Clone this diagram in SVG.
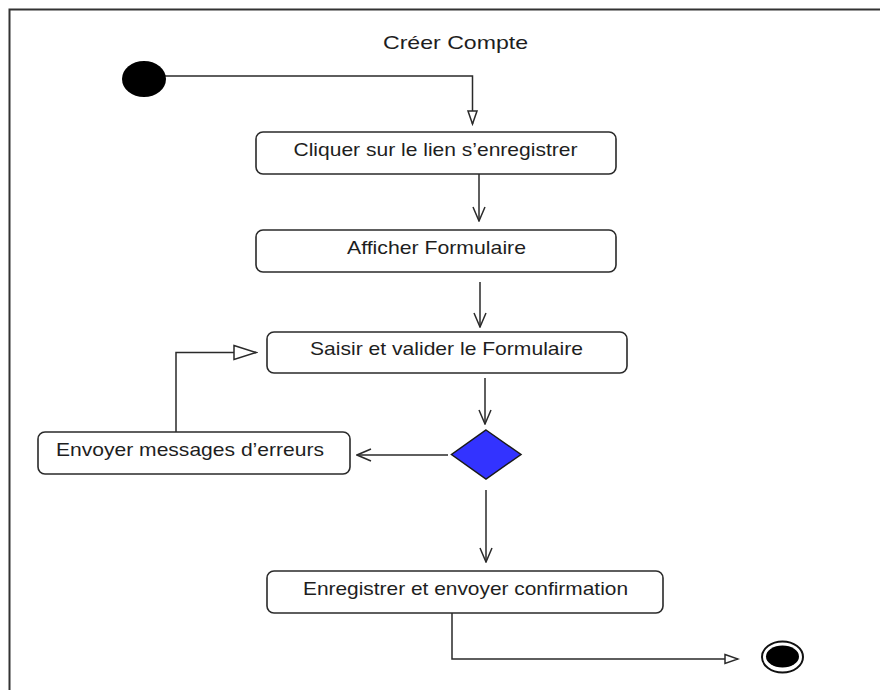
<svg xmlns="http://www.w3.org/2000/svg" width="880" height="690" viewBox="0 0 880 690">
<style>
.box{fill:#fff;stroke:#2a2a2a;stroke-width:1.6}
.lbl{font-family:"Liberation Sans",Arial,sans-serif;font-size:18.5px;fill:#1e1e1e;text-anchor:middle}
.ln{fill:none;stroke:#2a2a2a;stroke-width:1.5}
</style>
<defs>
<marker id="open" markerWidth="16" markerHeight="14" refX="15" refY="7" orient="auto" markerUnits="userSpaceOnUse">
<path d="M1,1 L15,7 L1,13" fill="none" stroke="#2a2a2a" stroke-width="1.5"/>
</marker>
<marker id="tri" markerWidth="26" markerHeight="18" refX="24" refY="9" orient="auto" markerUnits="userSpaceOnUse">
<path d="M2,2 L24,9 L2,16 Z" fill="#fff" stroke="#2a2a2a" stroke-width="1.5"/>
</marker>
<marker id="tris" markerWidth="16" markerHeight="14" refX="14" refY="7" orient="auto" markerUnits="userSpaceOnUse">
<path d="M1,2.5 L14,7 L1,11.5 Z" fill="#fff" stroke="#2a2a2a" stroke-width="1.5"/>
</marker>
</defs>
<rect x="0" y="0" width="880" height="690" fill="#fff"/>
<path d="M9.5,690 V9.5 H880" fill="none" stroke="#333" stroke-width="2"/>
<text class="lbl" x="455.5" y="49" textLength="145" lengthAdjust="spacingAndGlyphs">Créer Compte</text>
<g id="connectors">
<path class="ln" d="M163,76 H472.5 V124" marker-end="url(#tris)"/>
<path class="ln" d="M479,174 V221" marker-end="url(#open)"/>
<path class="ln" d="M480,282 V327" marker-end="url(#open)"/>
<path class="ln" d="M485,378 V424" marker-end="url(#open)"/>
<path class="ln" d="M448,455 H357" marker-end="url(#open)"/>
<path class="ln" d="M176,432 V352.5 H256" marker-end="url(#tri)"/>
<path class="ln" d="M486,490 V562" marker-end="url(#open)"/>
<path class="ln" d="M452,613 V659 H738" marker-end="url(#tris)"/>
</g>
<g id="start"><ellipse cx="144" cy="79" rx="22" ry="18" fill="#000"/></g>
<g id="n1"><rect class="box" x="256" y="132" width="360" height="42" rx="7"/><text class="lbl" x="435.5" y="156" textLength="284" lengthAdjust="spacingAndGlyphs">Cliquer sur le lien s’enregistrer</text></g>
<g id="n2"><rect class="box" x="256" y="230" width="360" height="42" rx="7"/><text class="lbl" x="436.5" y="253.5" textLength="179" lengthAdjust="spacingAndGlyphs">Afficher Formulaire</text></g>
<g id="n3"><rect class="box" x="267" y="332" width="360" height="41" rx="7"/><text class="lbl" x="446.5" y="355" textLength="273" lengthAdjust="spacingAndGlyphs">Saisir et valider le Formulaire</text></g>
<g id="decision"><polygon points="486,430 521,454.5 486,479 451.5,454.5" fill="#3333ff" stroke="#1a1a1a" stroke-width="1.5"/></g>
<g id="n4"><rect class="box" x="38" y="432" width="312" height="42" rx="7"/><text class="lbl" x="190" y="456" textLength="268" lengthAdjust="spacingAndGlyphs">Envoyer messages d’erreurs</text></g>
<g id="n5"><rect class="box" x="267" y="571" width="396" height="42" rx="7"/><text class="lbl" x="465.5" y="595" textLength="325" lengthAdjust="spacingAndGlyphs">Enregistrer et envoyer confirmation</text></g>
<g id="end"><ellipse cx="782.5" cy="657" rx="20.5" ry="15.5" fill="#fff" stroke="#111" stroke-width="2"/><ellipse cx="782.5" cy="656.5" rx="16.5" ry="11" fill="#000"/></g>
</svg>
